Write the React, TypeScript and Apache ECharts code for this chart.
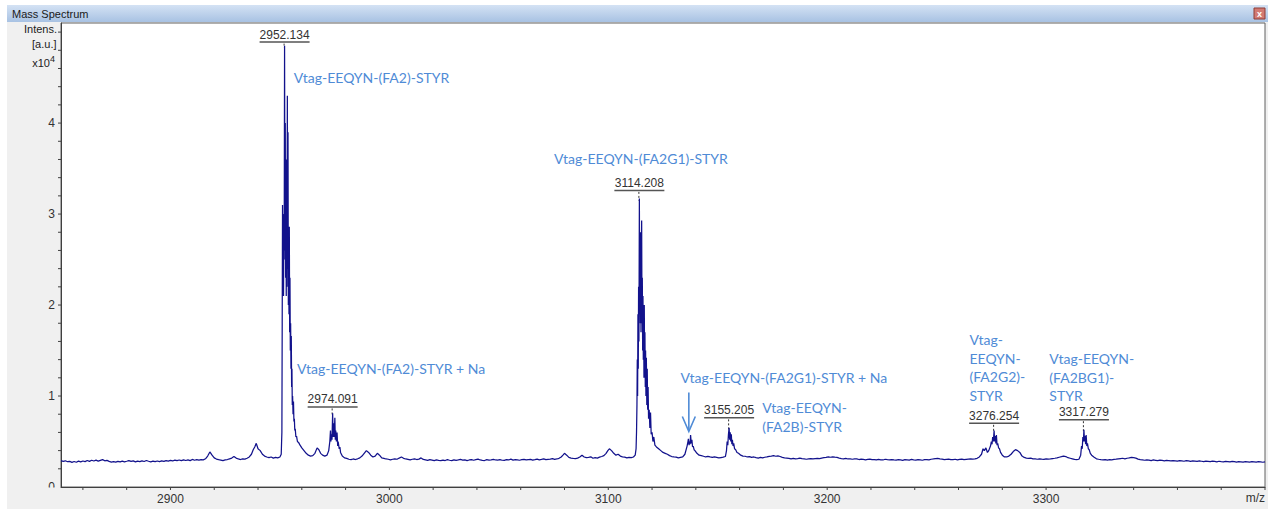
import React, { useEffect, useRef } from "react";
import * as echarts from "echarts";

// ---------- data (m/z, intensity x10^4) ----------
const regionLeft: [number, number][] = [
  [2850, 0.29], [2851, 0.282], [2852, 0.288], [2853, 0.278], [2854, 0.281], [2855, 0.271], [2856, 0.28],
  [2857, 0.272], [2858, 0.284], [2859, 0.276], [2860, 0.286], [2861, 0.279], [2862, 0.291], [2863, 0.282],
  [2864, 0.294], [2865, 0.286], [2866, 0.296], [2867, 0.285], [2868, 0.293], [2869, 0.301], [2870, 0.288],
  [2871, 0.292], [2872, 0.281], [2873, 0.274], [2874, 0.279], [2875, 0.273], [2876, 0.282], [2877, 0.276],
  [2878, 0.285], [2879, 0.277], [2880, 0.283], [2881, 0.29], [2882, 0.281], [2883, 0.287], [2884, 0.277],
  [2885, 0.284], [2886, 0.279], [2887, 0.288], [2888, 0.28], [2889, 0.291], [2890, 0.283], [2891, 0.276],
  [2892, 0.284], [2893, 0.278], [2894, 0.286], [2895, 0.279], [2896, 0.288], [2897, 0.281], [2898, 0.29],
  [2899, 0.284], [2900, 0.292], [2901, 0.286], [2902, 0.296], [2903, 0.289], [2904, 0.297], [2905, 0.29],
  [2906, 0.299], [2907, 0.291], [2908, 0.298], [2909, 0.29], [2910, 0.303], [2911, 0.294], [2912, 0.301],
  [2913, 0.295], [2914, 0.3], [2915, 0.298], [2916, 0.31], [2917, 0.34], [2918, 0.385], [2919, 0.35], [2920, 0.32],
  [2921, 0.307], [2922, 0.3], [2923, 0.296], [2924, 0.29], [2925, 0.298], [2926, 0.302], [2927, 0.31],
  [2928, 0.318], [2929, 0.335], [2930, 0.318], [2931, 0.308], [2932, 0.302], [2933, 0.31], [2934, 0.306],
  [2935, 0.316], [2936, 0.33], [2937, 0.36], [2937.8, 0.41], [2938.5, 0.44], [2939.2, 0.48], [2940, 0.42],
  [2941, 0.4], [2942, 0.36], [2943, 0.34], [2944, 0.33], [2945, 0.322], [2946, 0.33], [2947, 0.318],
  [2948, 0.326], [2949, 0.32], [2950, 0.33], [2950.6, 0.36],
];
const cluster2952: [number, number][] = [
  [2950.9, 0.6], [2951.05, 1.8], [2951.2, 3.1], [2951.35, 2.2], [2951.5, 2.9], [2951.65, 2.1], [2951.8, 3.0],
  [2951.95, 2.5], [2952.13, 4.85], [2952.3, 2.6], [2952.45, 4.0], [2952.6, 2.3], [2952.75, 3.4], [2952.9, 2.1],
  [2953.05, 3.6], [2953.2, 2.2], [2953.4, 4.3], [2953.55, 2.4], [2953.7, 3.9], [2953.85, 2.0], [2954.0, 2.6],
  [2954.15, 1.9], [2954.3, 2.86], [2954.45, 1.7], [2954.6, 2.3], [2954.75, 1.5], [2954.9, 1.8], [2955.05, 1.3],
  [2955.2, 1.66], [2955.35, 1.1], [2955.5, 1.3], [2955.65, 0.9], [2955.8, 1.0], [2956.0, 0.8], [2956.2, 0.94],
  [2956.4, 0.72], [2956.6, 0.75], [2956.8, 0.62], [2957.0, 0.64], [2957.3, 0.55], [2957.6, 0.56], [2958, 0.5],
  [2958.5, 0.49], [2959.2, 0.46], [2960, 0.43], [2961, 0.4], [2962, 0.37], [2963, 0.35], [2964, 0.34],
  [2965, 0.345], [2966, 0.37], [2967, 0.43], [2967.8, 0.41], [2968.6, 0.37], [2969.5, 0.35], [2970.5, 0.34],
  [2971.5, 0.35], [2972.3, 0.4],
];
const cluster2974: [number, number][] = [
  [2972.8, 0.5], [2973.1, 0.62], [2973.3, 0.5], [2973.5, 0.58], [2973.8, 0.52], [2974.09, 0.81], [2974.3, 0.55],
  [2974.5, 0.7], [2974.8, 0.55], [2975.1, 0.76], [2975.3, 0.52], [2975.5, 0.62], [2975.8, 0.5], [2976.1, 0.6],
  [2976.4, 0.45], [2976.6, 0.5], [2977.1, 0.42], [2977.4, 0.44], [2977.7, 0.38], [2978.5, 0.34], [2979.5, 0.32],
];
const regionMid: [number, number][] = [
  [2980.5, 0.315], [2981.5, 0.305], [2982.5, 0.3], [2983.5, 0.308], [2984.5, 0.302], [2985.5, 0.31],
  [2986.5, 0.32], [2987.5, 0.34], [2988.5, 0.37], [2989.5, 0.4], [2990.5, 0.38], [2991.5, 0.35], [2992.5, 0.33],
  [2993.5, 0.34], [2994.5, 0.37], [2995.5, 0.35], [2996.5, 0.32], [2997.5, 0.315], [2998.5, 0.308],
  [2999.5, 0.305], [3000.5, 0.298], [3001.5, 0.305], [3002.5, 0.31], [3003.5, 0.305], [3004.5, 0.318],
  [3005.5, 0.33], [3006.5, 0.315], [3007.5, 0.308], [3008.5, 0.303], [3009.5, 0.298], [3010.5, 0.305],
  [3011.5, 0.31], [3012.5, 0.302], [3013.5, 0.306], [3014.5, 0.32], [3015.5, 0.303], [3016.5, 0.298],
  [3017.5, 0.293], [3018.5, 0.3], [3019.5, 0.296], [3020.5, 0.29], [3021.5, 0.298], [3022.5, 0.293],
  [3023.5, 0.289], [3024.5, 0.296], [3025.5, 0.291], [3026.5, 0.3], [3027.5, 0.294], [3028.5, 0.29],
  [3029.5, 0.299], [3030.5, 0.293], [3031.5, 0.297], [3032.5, 0.303], [3033.5, 0.295], [3034.5, 0.298],
  [3035.5, 0.29], [3036.5, 0.297], [3037.5, 0.301], [3038.5, 0.294], [3039.5, 0.3], [3040.5, 0.306],
  [3041.5, 0.297], [3042.5, 0.293], [3043.5, 0.291], [3044.5, 0.3], [3045.5, 0.295], [3046.5, 0.299],
  [3047.5, 0.304], [3048.5, 0.297], [3049.5, 0.295], [3050.5, 0.301], [3051.5, 0.294], [3052.5, 0.292],
  [3053.5, 0.3], [3054.5, 0.297], [3055.5, 0.306], [3056.5, 0.296], [3057.5, 0.301], [3058.5, 0.298],
  [3059.5, 0.294], [3060.5, 0.3], [3061.5, 0.303], [3062.5, 0.297], [3063.5, 0.302], [3064.5, 0.304],
  [3065.5, 0.296], [3066.5, 0.3], [3067.5, 0.306], [3068.5, 0.299], [3069.5, 0.303], [3070.5, 0.309],
  [3071.5, 0.3], [3072.5, 0.304], [3073.5, 0.306], [3074.5, 0.311], [3075.5, 0.304], [3076.5, 0.308],
  [3077.5, 0.315], [3078.5, 0.33], [3079.3, 0.35], [3080, 0.37], [3081, 0.35], [3082, 0.325], [3083, 0.318],
  [3084, 0.314], [3085, 0.312], [3086, 0.318], [3087, 0.33], [3088, 0.35], [3089, 0.33], [3090, 0.322],
  [3091, 0.326], [3092, 0.332], [3093, 0.316], [3094, 0.322], [3095, 0.318], [3096, 0.328], [3097, 0.335],
  [3098, 0.345], [3099, 0.37], [3099.8, 0.4], [3100.5, 0.42], [3101.5, 0.4], [3102.5, 0.37], [3103.5, 0.35],
  [3104.5, 0.36], [3105.5, 0.34], [3106.5, 0.332], [3107.5, 0.328], [3108.5, 0.32], [3109.5, 0.326],
  [3110.5, 0.322], [3111.5, 0.33], [3112.3, 0.35],
];
const cluster3114: [number, number][] = [
  [3112.7, 0.42], [3112.9, 0.6], [3113.1, 0.9], [3113.25, 1.4], [3113.4, 1.0], [3113.55, 1.9], [3113.7, 1.3],
  [3113.85, 2.2], [3114.0, 1.6], [3114.21, 3.17], [3114.35, 1.9], [3114.5, 2.6], [3114.65, 1.8], [3114.8, 2.8],
  [3114.95, 1.7], [3115.1, 2.4], [3115.25, 2.93], [3115.4, 1.8], [3115.55, 2.3], [3115.7, 1.5], [3115.85, 2.1],
  [3116.0, 1.4], [3116.15, 1.9], [3116.3, 1.2], [3116.45, 2.0], [3116.6, 1.3], [3116.75, 1.7], [3116.9, 1.1],
  [3117.05, 1.5], [3117.2, 1.0], [3117.4, 1.42], [3117.6, 0.9], [3117.8, 1.3], [3118.0, 0.85], [3118.2, 1.1],
  [3118.4, 0.75], [3118.7, 0.85], [3119.0, 0.65], [3119.3, 0.82], [3119.6, 0.58], [3120.0, 0.6], [3120.4, 0.5],
  [3120.8, 0.55], [3121.3, 0.46], [3122, 0.44], [3123, 0.42], [3124, 0.4], [3125, 0.38], [3126, 0.37],
  [3127, 0.36], [3128, 0.345], [3129, 0.335], [3130, 0.33], [3131, 0.328], [3132, 0.32], [3133, 0.325],
  [3134, 0.33],
];
const cluster3137: [number, number][] = [
  [3135, 0.36], [3136, 0.45], [3136.4, 0.5], [3136.6, 0.53], [3136.9, 0.46], [3137.1, 0.5], [3137.35, 0.47],
  [3137.6, 0.57], [3137.9, 0.48], [3138.2, 0.52], [3138.5, 0.44], [3138.8, 0.45], [3139.2, 0.41], [3139.6, 0.4],
  [3140.5, 0.37], [3141.5, 0.35], [3142.5, 0.345], [3143.5, 0.338], [3144.5, 0.33], [3145.5, 0.336],
  [3146.5, 0.33], [3147.5, 0.325], [3148.5, 0.332], [3149.5, 0.326], [3150.5, 0.32], [3151.5, 0.324],
  [3152.5, 0.328], [3153.5, 0.335],
];
const cluster3155: [number, number][] = [
  [3154.0, 0.4], [3154.3, 0.5], [3154.6, 0.46], [3154.9, 0.58], [3155.2, 0.65], [3155.45, 0.52], [3155.7, 0.6],
  [3155.95, 0.5], [3156.2, 0.58], [3156.45, 0.47], [3156.7, 0.52], [3157.0, 0.45], [3157.3, 0.48], [3157.7, 0.42],
  [3158.2, 0.41], [3158.8, 0.38], [3159.5, 0.37], [3160.5, 0.35], [3161.5, 0.34], [3162.5, 0.338],
];
const regionRightMid: [number, number][] = [
  [3163.5, 0.33], [3164.5, 0.334], [3165.5, 0.325], [3166.5, 0.33], [3167.5, 0.322], [3168.5, 0.318],
  [3169.5, 0.325], [3170.5, 0.32], [3171.5, 0.327], [3172.5, 0.33], [3173.5, 0.336], [3174.5, 0.34],
  [3175.5, 0.345], [3176.5, 0.338], [3177.5, 0.342], [3178.5, 0.335], [3179.5, 0.326], [3180.5, 0.32],
  [3181.5, 0.318], [3182.5, 0.314], [3183.5, 0.31], [3184.5, 0.315], [3185.5, 0.309], [3186.5, 0.313],
  [3187.5, 0.318], [3188.5, 0.311], [3189.5, 0.308], [3190.5, 0.305], [3191.5, 0.31], [3192.5, 0.313],
  [3193.5, 0.308], [3194.5, 0.312], [3195.5, 0.315], [3196.5, 0.312], [3197.5, 0.318], [3198.5, 0.322],
  [3199.5, 0.325], [3200.5, 0.33], [3201.5, 0.327], [3202.5, 0.332], [3203.5, 0.328], [3204.5, 0.325],
  [3205.5, 0.318], [3206.5, 0.313], [3207.5, 0.31], [3208.5, 0.315], [3209.5, 0.308], [3210.5, 0.31],
  [3211.5, 0.305], [3212.5, 0.309], [3213.5, 0.31], [3214.5, 0.302], [3215.5, 0.306], [3216.5, 0.303],
  [3217.5, 0.299], [3218.5, 0.304], [3219.5, 0.306], [3220.5, 0.3], [3221.5, 0.302], [3222.5, 0.297],
  [3223.5, 0.303], [3224.5, 0.299], [3225.5, 0.297], [3226.5, 0.305], [3227.5, 0.3], [3228.5, 0.297],
  [3229.5, 0.302], [3230.5, 0.298], [3231.5, 0.295], [3232.5, 0.3], [3233.5, 0.297], [3234.5, 0.293],
  [3235.5, 0.3], [3236.5, 0.298], [3237.5, 0.295], [3238.5, 0.303], [3239.5, 0.299], [3240.5, 0.296],
  [3241.5, 0.3], [3242.5, 0.297], [3243.5, 0.294], [3244.5, 0.3], [3245.5, 0.302], [3246.5, 0.298],
  [3247.5, 0.305], [3248.5, 0.308], [3249.5, 0.312], [3250.5, 0.315], [3251.5, 0.31], [3252.5, 0.306],
  [3253.5, 0.3], [3254.5, 0.304], [3255.5, 0.306], [3256.5, 0.3], [3257.5, 0.302], [3258.5, 0.305],
  [3259.5, 0.298], [3260.5, 0.303], [3261.5, 0.306], [3262.5, 0.3], [3263.5, 0.304], [3264.5, 0.307],
  [3265.5, 0.31], [3266.5, 0.306], [3267.5, 0.309], [3268.5, 0.315], [3269.5, 0.33], [3270.5, 0.36],
  [3271.2, 0.42], [3271.8, 0.4], [3272.5, 0.43], [3273.2, 0.38], [3273.8, 0.4], [3274.6, 0.45],
];
const cluster3276: [number, number][] = [
  [3275.0, 0.5], [3275.3, 0.47], [3275.6, 0.55], [3275.9, 0.5], [3276.25, 0.62], [3276.5, 0.5], [3276.8, 0.56],
  [3277.05, 0.48], [3277.3, 0.57], [3277.6, 0.46], [3277.9, 0.48], [3278.3, 0.43], [3278.7, 0.42], [3279.2, 0.38],
  [3280, 0.35], [3281, 0.33], [3282, 0.33], [3283, 0.34], [3284, 0.36], [3285, 0.39], [3286, 0.41], [3287, 0.4],
  [3288, 0.38], [3289, 0.34], [3290, 0.325], [3291, 0.318], [3292, 0.314], [3293, 0.318], [3294, 0.31],
  [3295, 0.308], [3296, 0.305], [3297, 0.31], [3298, 0.306], [3299, 0.304], [3300, 0.31], [3301, 0.306],
  [3302, 0.308], [3303, 0.313], [3304, 0.316], [3305, 0.32], [3306, 0.327], [3307, 0.333], [3308, 0.34],
  [3309, 0.335], [3310, 0.322], [3311, 0.316], [3312, 0.31], [3313, 0.303], [3314, 0.3], [3315, 0.305],
];
const cluster3317: [number, number][] = [
  [3315.8, 0.35], [3316.2, 0.45], [3316.5, 0.42], [3316.8, 0.55], [3317.05, 0.5], [3317.28, 0.63],
  [3317.55, 0.5], [3317.8, 0.56], [3318.05, 0.47], [3318.3, 0.57], [3318.6, 0.45], [3318.9, 0.48],
  [3319.3, 0.42], [3319.7, 0.41], [3320.2, 0.37], [3320.8, 0.35], [3321.8, 0.33], [3323, 0.31],
];
const regionRight: [number, number][] = [
  [3324, 0.305], [3325, 0.301], [3326, 0.298], [3327, 0.302], [3328, 0.296], [3329, 0.301], [3330, 0.298],
  [3331, 0.303], [3332, 0.306], [3333, 0.31], [3334, 0.313], [3335, 0.316], [3336, 0.31], [3337, 0.316],
  [3338, 0.319], [3339, 0.325], [3340, 0.322], [3341, 0.318], [3342, 0.307], [3343, 0.302], [3344, 0.298],
  [3345, 0.294], [3346, 0.299], [3347, 0.296], [3348, 0.291], [3349, 0.297], [3350, 0.293], [3351, 0.289],
  [3352, 0.295], [3353, 0.292], [3354, 0.287], [3355, 0.293], [3356, 0.29], [3357, 0.286], [3358, 0.291],
  [3359, 0.288], [3360, 0.284], [3361, 0.29], [3362, 0.287], [3363, 0.283], [3364, 0.289], [3365, 0.286],
  [3366, 0.282], [3367, 0.288], [3368, 0.285], [3369, 0.281], [3370, 0.286], [3371, 0.283], [3372, 0.279],
  [3373, 0.285], [3374, 0.282], [3375, 0.278], [3376, 0.284], [3377, 0.281], [3378, 0.277], [3379, 0.283],
  [3380, 0.279], [3381, 0.276], [3382, 0.282], [3383, 0.279], [3384, 0.275], [3385, 0.281], [3386, 0.278],
  [3387, 0.274], [3388, 0.28], [3389, 0.277], [3390, 0.274], [3391, 0.279], [3392, 0.276], [3393, 0.273],
  [3394, 0.279], [3395, 0.276], [3396, 0.273], [3397, 0.278], [3398, 0.275], [3399, 0.272], [3400, 0.277],
];

// axis ticks and labels
const xLabelValues = [2900, 3000, 3100, 3200, 3300];
const xTickValues = [
  2860, 2880, 2900, 2920, 2940, 2960, 2980, 3000, 3020, 3040, 3060, 3080, 3100, 3120, 3140, 3160, 3180, 3200,
  3220, 3240, 3260, 3280, 3300, 3320, 3340, 3360, 3380, 3400,
];
const yLabelValues = [0, 1, 2, 3, 4];
const yTickValues = [
  0.2, 0.4, 0.6, 0.8, 1, 1.2, 1.4, 1.6, 1.8, 2, 2.2, 2.4, 2.6, 2.8, 3, 3.2, 3.4, 3.6, 3.8, 4, 4.2, 4.4, 4.6,
  4.8, 5,
];

// peak labels
const peakMz = [2952.134, 2974.091, 3114.208, 3155.205, 3276.254, 3317.279];
const peakUnderline = [4.89, 0.88, 3.26, 0.76, 0.7, 0.74];
const peakTop = [4.85, 0.81, 3.17, 0.65, 0.62, 0.63];

// annotations
const annTexts = [
  "Vtag-EEQYN-(FA2)-STYR",
  "Vtag-EEQYN-(FA2)-STYR + Na",
  "Vtag-EEQYN-(FA2G1)-STYR",
  "Vtag-EEQYN-(FA2G1)-STYR + Na",
  "Vtag-EEQYN-\n(FA2B)-STYR",
  "Vtag-\nEEQYN-\n(FA2G2)-\nSTYR",
  "Vtag-EEQYN-\n(FA2BG1)-\nSTYR",
];
const annMz = [2956.3, 2957.8, 3114.9, 3133.0, 3170.3, 3265.0, 3301.5];
const annLevel = [4.5, 1.3, 3.61, 1.2, 0.87, 1.62, 1.41];
const annAlign = ["left", "left", "center", "left", "left", "left", "left"];
const arrowMz = 3136.8;
const arrowFrom = 1.04;
const arrowTo = 0.61;

const spectrum = [
  ...regionLeft, ...cluster2952, ...cluster2974, ...regionMid, ...cluster3114, ...cluster3137,
  ...cluster3155, ...regionRightMid, ...cluster3276, ...cluster3317, ...regionRight,
];

const AXIS_FONT = "Liberation Sans";
const BLUE = "#4f8bd6";

export default function App() {
  const ref = useRef<HTMLDivElement>(null);
  useEffect(() => {
    const el = ref.current as HTMLDivElement;
    const chart = echarts.init(el, null, { renderer: "svg" });
    chart.setOption({
      animation: false,
      backgroundColor: "#ffffff",
      grid: {
        left: 61, top: 23, right: 7, bottom: 22, containLabel: false, outerBoundsMode: "none",
        show: true, backgroundColor: "#ffffff", borderColor: "#606060", borderWidth: 1,
      },
      xAxis: {
        type: "value", min: 2850, max: 3400,
        axisLine: { show: true, lineStyle: { color: "#404040", width: 1 } },
        axisTick: { show: false },
        axisLabel: {
          customValues: xLabelValues, margin: 6, color: "#333", fontFamily: AXIS_FONT, fontSize: 12,
          formatter: (v: number) => String(v),
        },
        splitLine: { show: false },
      },
      yAxis: {
        type: "value", min: 0, max: 5.1,
        axisLine: { show: true, lineStyle: { color: "#404040", width: 1 } },
        axisTick: { show: false },
        axisLabel: {
          customValues: yLabelValues, margin: 6, color: "#333", fontFamily: AXIS_FONT, fontSize: 12,
          formatter: (v: number) => String(v),
        },
        splitLine: { show: false },
      },
      series: [
        {
          type: "line", data: spectrum, symbol: "none", showSymbol: false, z: 3, silent: true,
          lineStyle: { color: "#12128c", width: 1.25 },
        },
      ],
    });

    const px = (x: number, y: number) => chart.convertToPixel({ gridIndex: 0 }, [x, y]) as number[];
    const els: any[] = [];
    // panel + title bar
    els.push({ type: "rect", z: -10, shape: { x: 7, y: 5, width: 1261, height: 504 }, style: { fill: "#f0f0f0" } });
    els.push({
      type: "rect", z: -9, shape: { x: 7, y: 5, width: 1261, height: 17 },
      style: {
        fill: new echarts.graphic.LinearGradient(0, 0, 0, 1, [
          { offset: 0, color: "#d4e2f4" }, { offset: 1, color: "#a8c2e3" },
        ]),
      },
    });
    els.push({
      type: "text", z: 20, x: 12, y: 14,
      style: { text: "Mass Spectrum", fill: "#1a1a1a", font: `11px "${AXIS_FONT}"`, textVerticalAlign: "middle" },
    });
    els.push({ type: "rect", z: 20, shape: { x: 1254, y: 8, width: 11, height: 11 }, style: { fill: "#d27a72", stroke: "#8e3c36", lineWidth: 1 } });
    els.push({
      type: "text", z: 21, x: 1259.5, y: 13.5,
      style: { text: "x", fill: "#fff", font: `bold 9px "${AXIS_FONT}"`, textAlign: "center", textVerticalAlign: "middle" },
    });
    // y axis title
    const yt = { fill: "#222", font: `11px "${AXIS_FONT}"`, textAlign: "right", textVerticalAlign: "middle" };
    els.push({ type: "text", z: 20, x: 57, y: 29, style: { ...yt, text: "Intens." } });
    els.push({ type: "text", z: 20, x: 56.5, y: 43.5, style: { ...yt, text: "[a.u.]" } });
    els.push({ type: "text", z: 20, x: 50, y: 62.5, style: { ...yt, text: "x10" } });
    els.push({ type: "text", z: 20, x: 55, y: 58.5, style: { ...yt, font: `9px "${AXIS_FONT}"`, text: "4" } });
    // ticks, placed through the axes
    xTickValues.forEach((v) => {
      const p = px(v, 0);
      els.push({ type: "line", z: 5, shape: { x1: p[0], y1: p[1], x2: p[0], y2: p[1] + 3 }, style: { stroke: "#404040", lineWidth: 1 } });
    });
    yTickValues.forEach((v) => {
      const p = px(2850, v);
      els.push({ type: "line", z: 5, shape: { x1: p[0] - 3, y1: p[1], x2: p[0], y2: p[1] }, style: { stroke: "#404040", lineWidth: 1 } });
    });
    // hide lower half of the "0" label
    els.push({ type: "rect", z: 50, shape: { x: 8, y: 487.6, width: 52, height: 21 }, style: { fill: "#f0f0f0" } });
    // m/z
    els.push({
      type: "text", z: 20, x: 1265, y: 498,
      style: { text: "m/z", fill: "#333", font: `12px "${AXIS_FONT}"`, textAlign: "right", textVerticalAlign: "middle" },
    });

    // peak labels
    peakMz.forEach((mz, i) => {
      const p = px(mz, peakUnderline[i]);
      const b = px(mz, peakTop[i]);
      els.push({
        type: "line", z: 1, shape: { x1: p[0] - 0.5, y1: p[1] + 1.5, x2: p[0] - 0.5, y2: b[1] + 2 },
        style: { stroke: "#333", lineWidth: 1, lineDash: [2, 2] },
      });
      els.push({
        type: "line", z: 20, shape: { x1: p[0] - 25, y1: p[1], x2: p[0] + 25, y2: p[1] },
        style: { stroke: "#555", lineWidth: 1.5 },
      });
      els.push({
        type: "text", z: 20, x: p[0], y: p[1] - 1.5,
        style: {
          text: mz.toFixed(3), fill: "#333", font: `12px "${AXIS_FONT}"`, textAlign: "center", textVerticalAlign: "bottom",
        },
      });
    });

    // annotations
    annTexts.forEach((t, i) => {
      const p = px(annMz[i], annLevel[i]);
      els.push({
        type: "text", z: 20, x: p[0], y: p[1] - 9.5,
        style: {
          text: t, fill: BLUE, font: `14px Lato`, lineHeight: 18.7, textAlign: annAlign[i], textVerticalAlign: "top",
        },
      });
    });
    const a0 = px(arrowMz, arrowFrom);
    const a1 = px(arrowMz, arrowTo);
    els.push({ type: "line", z: 20, shape: { x1: a0[0], y1: a0[1], x2: a1[0], y2: a1[1] - 1 }, style: { stroke: BLUE, lineWidth: 1.6 } });
    els.push({
      type: "polyline", z: 20,
      shape: { points: [[a1[0] - 6.5, a1[1] - 15], [a1[0], a1[1]], [a1[0] + 6.5, a1[1] - 15]] },
      style: { stroke: BLUE, lineWidth: 1.6, fill: "none" },
    });

    chart.setOption({ graphic: { elements: els } });
    return () => chart.dispose();
  }, []);
  return <div ref={ref} style={{ position: "fixed", left: 0, top: 0, width: 1272, height: 509 }} />;
}
